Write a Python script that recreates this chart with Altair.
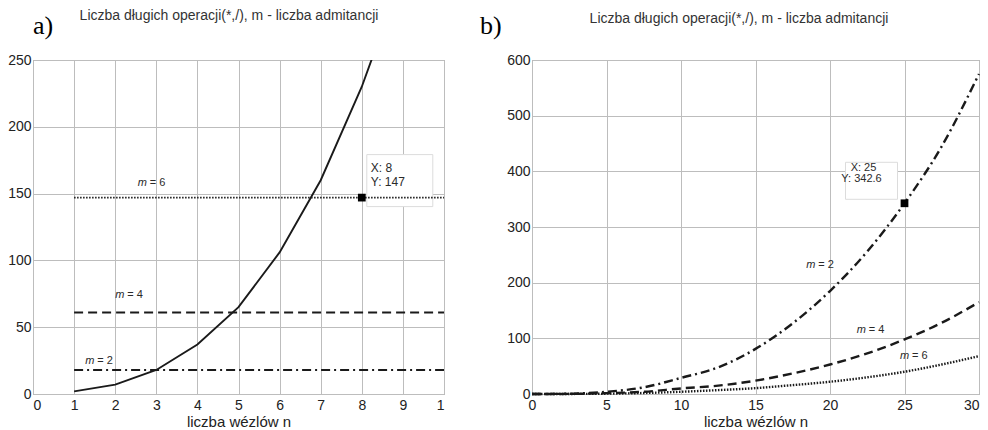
import altair as alt
import pandas as pd

FONT = "Liberation Sans"
SERIF = "Liberation Serif"
INK = "#1a1a1a"
TXT = "#2a2a2a"

TITLE = "Liczba długich operacji(*,/), m - liczba admitancji"
X_TITLE = "liczba wézlów n"
PANELS = ["a)", "b)"]

# ---------------- panel a) ----------------
N_A = [1, 2, 3, 4, 5, 6, 7, 8, 9]
OPS_A = [2, 7, 18, 37, 65, 106, 160, 230, 315]
M_A = [6, 4, 2]
LEVEL_A = [147, 61, 18]
LEVEL_FROM_A = [1, 1, 1]
LEVEL_TO_A = [10, 10, 10]
LABEL_N_A = [2.55, 2.0, 1.27]
LABEL_V_A = [158, 74, 25]
TIP_N_A = [8]
TIP_V_A = [147]
XTICKS_A = [0, 1, 2, 3, 4, 5, 6, 7, 8, 9, 10]
YTICKS_A = [0, 50, 100, 150, 200, 250]

# ---------------- panel b) ----------------
N_B = [0, 2.5, 5, 7.5, 10, 12.5, 15, 17.5, 20, 22.5, 25, 27.5, 30]
OPS_B_M2 = [0, 0.5, 4, 12, 29, 48, 81, 127, 185, 256, 342.6, 445, 575]
OPS_B_M4 = [0, 0.2, 1.5, 4, 10, 15, 24, 37, 53, 73, 98, 128, 165]
OPS_B_M6 = [0, 0.1, 0.6, 1.8, 4, 7, 10.5, 16, 22, 30, 40, 53, 68]
M_B = [2, 4, 6]
LABEL_N_B = [18.4, 21.8, 24.7]
LABEL_V_B = [232, 115, 69]
TIP_N_B = [25]
TIP_V_B = [342.6]
XTICKS_B = [0, 5, 10, 15, 20, 25, 30]
YTICKS_B = [0, 100, 200, 300, 400, 500, 600]

DASH = {2: [9, 4, 2, 4], 4: [9, 5], 6: [1.5, 1.5]}

WA, HA = 411, 334
WB, HB = 447, 334


def xenc(field, domain, ticks, expr=None, last_right=False):
    kw = dict(values=ticks, title=X_TITLE)
    if expr:
        kw["labelExpr"] = expr
    if last_right:
        kw["labelAlign"] = {"condition": {"test": f"datum.value == {ticks[-1]}", "value": "right"},
                            "value": "center"}
    return alt.X(f"{field}:Q", scale=alt.Scale(domain=domain, nice=False, zero=False),
                 axis=alt.Axis(**kw))


def yenc(field, domain, ticks):
    return alt.Y(f"{field}:Q", scale=alt.Scale(domain=domain, nice=False, zero=False),
                 axis=alt.Axis(values=ticks, title=None))


def fmt(v):
    return str(int(v)) if float(v).is_integer() else str(v)


# ---------- panel a layers ----------
XA = lambda f: xenc(f, [0, 10], XTICKS_A, "datum.value == 10 ? '1' : datum.label")
YA = lambda f: yenc(f, [0, 250], YTICKS_A)

df_curve_a = pd.DataFrame({"n": N_A, "ops": OPS_A})
df_lvl_a = pd.DataFrame({"m": M_A, "level": LEVEL_A, "x0": LEVEL_FROM_A, "x1": LEVEL_TO_A})
df_lab_a = pd.DataFrame({"n": LABEL_N_A, "v": LABEL_V_A,
                         "m": ["m"] * len(M_A), "rest": [f"= {m}" for m in M_A]})
df_tip_a = pd.DataFrame({"n": TIP_N_A, "v": TIP_V_A,
                         "tx": [f"X: {fmt(v)}" for v in TIP_N_A],
                         "ty": [f"Y: {fmt(v)}" for v in TIP_V_A]})

layers_a = []
layers_a.append(alt.Chart(df_tip_a).mark_rect(
    fill="white", stroke="#dcdcdc", strokeWidth=1,
    xOffset=5, x2Offset=71, yOffset=-43, y2Offset=9
).encode(x=XA("n"), x2="n", y=YA("v"), y2="v"))
layers_a.append(alt.Chart(df_curve_a).mark_line(color=INK, strokeWidth=1.9, clip=True)
                .encode(x=XA("n"), y=YA("ops")))
for m in M_A:
    layers_a.append(alt.Chart(df_lvl_a).transform_filter(alt.datum.m == m).mark_rule(
        color=INK, strokeWidth=1.9, strokeDash=DASH[m]
    ).encode(x=XA("x0"), x2="x1", y=YA("level")))
layers_a.append(alt.Chart(df_lab_a).mark_text(
    font=FONT, fontSize=11, fontStyle="italic", color=TXT, align="left", baseline="middle"
).encode(x=XA("n"), y=YA("v"), text="m:N"))
layers_a.append(alt.Chart(df_lab_a).mark_text(
    font=FONT, fontSize=11, color=TXT, align="left", baseline="middle", dx=12
).encode(x=XA("n"), y=YA("v"), text="rest:N"))
layers_a.append(alt.Chart(df_tip_a).mark_point(
    shape="square", size=60, filled=True, color="black", opacity=1
).encode(x=XA("n"), y=YA("v")))
layers_a.append(alt.Chart(df_tip_a).mark_text(
    font=FONT, fontSize=12, color=TXT, align="left", baseline="middle", dx=9, dy=-30
).encode(x=XA("n"), y=YA("v"), text="tx:N"))
layers_a.append(alt.Chart(df_tip_a).mark_text(
    font=FONT, fontSize=12, color=TXT, align="left", baseline="middle", dx=9, dy=-16
).encode(x=XA("n"), y=YA("v"), text="ty:N"))
layers_a.append(alt.Chart(pd.DataFrame({"t": [TITLE]})).mark_text(
    font=FONT, fontSize=14, color="#333", align="center", baseline="middle"
).encode(x=alt.value(196), y=alt.value(-44), text="t:N"))
layers_a.append(alt.Chart(pd.DataFrame({"t": [PANELS[0]]})).mark_text(
    font=SERIF, fontSize=26, color="black", align="left", baseline="middle"
).encode(x=alt.value(0), y=alt.value(-34), text="t:N"))

chart_a = alt.layer(*layers_a).properties(width=WA, height=HA)

# ---------- panel b layers ----------
XB = lambda f: xenc(f, [0, 30], XTICKS_B, last_right=True)
YB = lambda f: yenc(f, [0, 600], YTICKS_B)

df_curve_b = pd.DataFrame({
    "n": N_B * 3,
    "ops": OPS_B_M2 + OPS_B_M4 + OPS_B_M6,
    "m": [2] * len(N_B) + [4] * len(N_B) + [6] * len(N_B),
})
df_lab_b = pd.DataFrame({"n": LABEL_N_B, "v": LABEL_V_B,
                         "m": ["m"] * len(M_B), "rest": [f"= {m}" for m in M_B]})
df_tip_b = pd.DataFrame({"n": TIP_N_B, "v": TIP_V_B,
                         "tx": [f"X: {fmt(v)}" for v in TIP_N_B],
                         "ty": [f"Y: {fmt(v)}" for v in TIP_V_B]})

layers_b = []
layers_b.append(alt.Chart(df_tip_b).mark_rect(
    fill="white", stroke="#dcdcdc", strokeWidth=1,
    xOffset=-59, x2Offset=-7, yOffset=-41, y2Offset=-4
).encode(x=XB("n"), x2="n", y=YB("v"), y2="v"))
for m in M_B:
    layers_b.append(alt.Chart(df_curve_b).transform_filter(alt.datum.m == m).mark_line(
        color=INK, strokeWidth=2.4, strokeDash=DASH[m], interpolate="monotone"
    ).encode(x=XB("n"), y=YB("ops")))
layers_b.append(alt.Chart(df_lab_b).mark_text(
    font=FONT, fontSize=11, fontStyle="italic", color=TXT, align="left", baseline="middle"
).encode(x=XB("n"), y=YB("v"), text="m:N"))
layers_b.append(alt.Chart(df_lab_b).mark_text(
    font=FONT, fontSize=11, color=TXT, align="left", baseline="middle", dx=12
).encode(x=XB("n"), y=YB("v"), text="rest:N"))
layers_b.append(alt.Chart(df_tip_b).mark_point(
    shape="square", size=60, filled=True, color="black", opacity=1
).encode(x=XB("n"), y=YB("v")))
layers_b.append(alt.Chart(df_tip_b).mark_text(
    font=FONT, fontSize=11, color=TXT, align="center", baseline="middle", dx=-41, dy=-35
).encode(x=XB("n"), y=YB("v"), text="tx:N"))
layers_b.append(alt.Chart(df_tip_b).mark_text(
    font=FONT, fontSize=11, color=TXT, align="center", baseline="middle", dx=-43, dy=-24
).encode(x=XB("n"), y=YB("v"), text="ty:N"))
layers_b.append(alt.Chart(pd.DataFrame({"t": [TITLE]})).mark_text(
    font=FONT, fontSize=14, color="#333", align="center", baseline="middle"
).encode(x=alt.value(207), y=alt.value(-41), text="t:N"))
layers_b.append(alt.Chart(pd.DataFrame({"t": [PANELS[1]]})).mark_text(
    font=SERIF, fontSize=26, color="black", align="left", baseline="middle"
).encode(x=alt.value(-52), y=alt.value(-34), text="t:N"))

chart_b = alt.layer(*layers_b).properties(width=WB, height=HB)

chart = alt.hconcat(chart_a, chart_b, spacing=33).properties(
    autosize=alt.AutoSizeParams(type="none"),
    padding={"left": 25, "top": 52, "right": 947, "bottom": 370},
    background="white",
).configure_view(
    stroke="#9a9a9a", strokeWidth=1
).configure_axis(
    grid=True, gridColor="#bdbdbd", gridWidth=1, domain=False, ticks=False,
    labelFont=FONT, labelFontSize=14, labelColor="#222",
    titleFont=FONT, titleFontSize=15, titleFontWeight="normal", titleColor="#222",
).configure_axisY(
    labelPadding=2
).configure_axisX(
    labelPadding=4, titlePadding=2
)

chart.save("out.html", embed_options={"renderer": "svg", "actions": False})
